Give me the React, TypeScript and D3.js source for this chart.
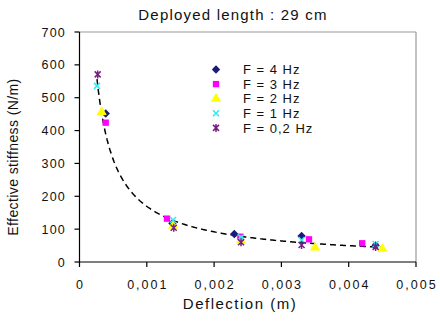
import React from "react";
import * as d3 from "d3";

const title = "Deployed length : 29 cm";
const xLabel = "Deflection (m)";
const yLabel = "Effective stiffness (N/m)";
const xTicks = [0, 0.001, 0.002, 0.003, 0.004, 0.005];
const yTicks = [0, 100, 200, 300, 400, 500, 600, 700];
const seriesNames = ["F = 4 Hz", "F = 3 Hz", "F = 2 Hz", "F = 1 Hz", "F = 0,2 Hz"];

const f4x = [0.00039, 0.00138, 0.0023, 0.0033, 0.0044];
const f4y = [452, 118, 85, 79, 50];
const f3x = [0.00039, 0.0013, 0.00239, 0.00341, 0.0042];
const f3y = [424, 132, 77, 69, 57];
const f2x = [0.00033, 0.00139, 0.0024, 0.0035, 0.0045];
const f2y = [456, 110, 65, 44, 40];
const f1x = [0.00026, 0.00139, 0.0024, 0.0033, 0.0044];
const f1y = [536, 128, 75, 67, 55];
const f02x = [0.00027, 0.0014, 0.0024, 0.0033, 0.0044];
const f02y = [571, 104, 60, 52, 46];

const colors = ["#1a1a78", "#ff00ff", "#ffff00", "#33e8f0", "#7a1f82"];
const shapes = ["diamond", "square", "triangle", "x", "star"];

const W = 440, H = 322;
const L = 79.5, R = 416, T = 32, B = 262;
const FONT = "'Liberation Sans', Arial, sans-serif";

function markerPath(shape: string): string {
  if (shape === "diamond") return "M0,-4.2L4.2,0L0,4.2L-4.2,0Z";
  if (shape === "square") return d3.symbol(d3.symbolSquare, 40)() as string;
  if (shape === "triangle") return d3.symbol(d3.symbolTriangle, 45)() as string;
  if (shape === "x") return "M-3,-3L3,3M-3,3L3,-3";
  return "M-3,-3L3,3M-3,3L3,-3M0,-4L0,4";
}

export default function App() {
  const x = d3.scaleLinear().domain([0, 0.005]).range([L, R]);
  const y = d3.scaleLinear().domain([0, 700]).range([B, T]);
  const series = [
    [f4x, f4y], [f3x, f3y], [f2x, f2y], [f1x, f1y], [f02x, f02y],
  ];
  // power trendline fit over all points (log-log least squares)
  const allX: number[] = [], allY: number[] = [];
  series.forEach(([xs, ys]) => xs.forEach((v, i) => { allX.push(v); allY.push(ys[i]); }));
  const lx = allX.map(Math.log), ly = allY.map(Math.log);
  const mx = d3.mean(lx)!, my = d3.mean(ly)!;
  const b = d3.sum(lx.map((v, i) => (v - mx) * (ly[i] - my))) / d3.sum(lx.map((v) => (v - mx) ** 2));
  const a = Math.exp(my - b * mx);
  const x0 = d3.min(allX)!, x1 = d3.max(allX)!;
  const trendPts = d3.range(0, 201).map((i) => x0 + ((x1 - x0) * i) / 200);
  const line = d3.line<number>().x((v) => x(v)).y((v) => y(a * Math.pow(v, b)));

  return (
    <div style={{ position: "absolute", left: 0, top: 0 }}>
      <svg width={W} height={H} style={{ display: "block", background: "#fff" }}>
        <text x={233} y={20} textAnchor="middle" fontFamily={FONT} fontSize={15} letterSpacing={1.2} fill="#111">{title}</text>
        {/* plot border */}
        <line x1={L} x2={R} y1={T} y2={T} stroke="#999" strokeWidth={1.2} />
        <line x1={R} x2={R} y1={T} y2={B} stroke="#999" strokeWidth={1.2} />
        {/* trendline */}
        <path d={line(trendPts) as string} fill="none" stroke="#000" strokeWidth={1.5} strokeDasharray="6,4" />
        {/* points */}
        {series.map(([xs, ys], si) => (
          <g key={si}>
            {xs.map((v, i) => (
              <path key={i} d={markerPath(shapes[si])} transform={`translate(${x(v)},${y(ys[i])})`}
                fill={shapes[si] === "x" || shapes[si] === "star" ? "none" : colors[si]}
                stroke={shapes[si] === "x" || shapes[si] === "star" ? colors[si] : "none"} strokeWidth={1.5} />
            ))}
          </g>
        ))}
        {/* axes */}
        <line x1={L} x2={L} y1={T} y2={B + 0.5} stroke="#000" strokeWidth={1.2} />
        <line x1={L - 0.5} x2={R} y1={B} y2={B} stroke="#000" strokeWidth={1.2} />
        {yTicks.map((t) => (
          <g key={t}>
            <line x1={L - 5} x2={L} y1={y(t)} y2={y(t)} stroke="#000" strokeWidth={1.2} />
            <text x={66} y={y(t) + 4.5} textAnchor="end" fontFamily={FONT} fontSize={12.5} letterSpacing={1.2} fill="#111">{t}</text>
          </g>
        ))}
        {xTicks.map((t) => (
          <g key={t}>
            <line x1={x(t)} x2={x(t)} y1={B} y2={B + 5} stroke="#000" strokeWidth={1.2} />
            <text x={x(t) + 1} y={289} textAnchor="middle" fontFamily={FONT} fontSize={12.5} letterSpacing={2} fill="#111">{d3.format("")(t).replace(".", ",")}</text>
          </g>
        ))}
        <text x={240} y={309} textAnchor="middle" fontFamily={FONT} fontSize={15} letterSpacing={1.5} fill="#111">{xLabel}</text>
        <text transform={`translate(18,${157}) rotate(-90)`} textAnchor="middle" fontFamily={FONT} fontSize={14} letterSpacing={0.4} fill="#111">{yLabel}</text>
        {/* legend */}
        {seriesNames.map((n, i) => (
          <g key={n} transform={`translate(216,${69.5 + i * 14.6})`}>
            <path d={markerPath(shapes[i])}
              fill={shapes[i] === "x" || shapes[i] === "star" ? "none" : colors[i]}
              stroke={shapes[i] === "x" || shapes[i] === "star" ? colors[i] : "none"} strokeWidth={1.5} />
            <text x={27} y={4.7} fontFamily={FONT} fontSize={13} letterSpacing={1} fill="#111" style={{ whiteSpace: "pre" }}>{n}</text>
          </g>
        ))}
      </svg>
    </div>
  );
}
